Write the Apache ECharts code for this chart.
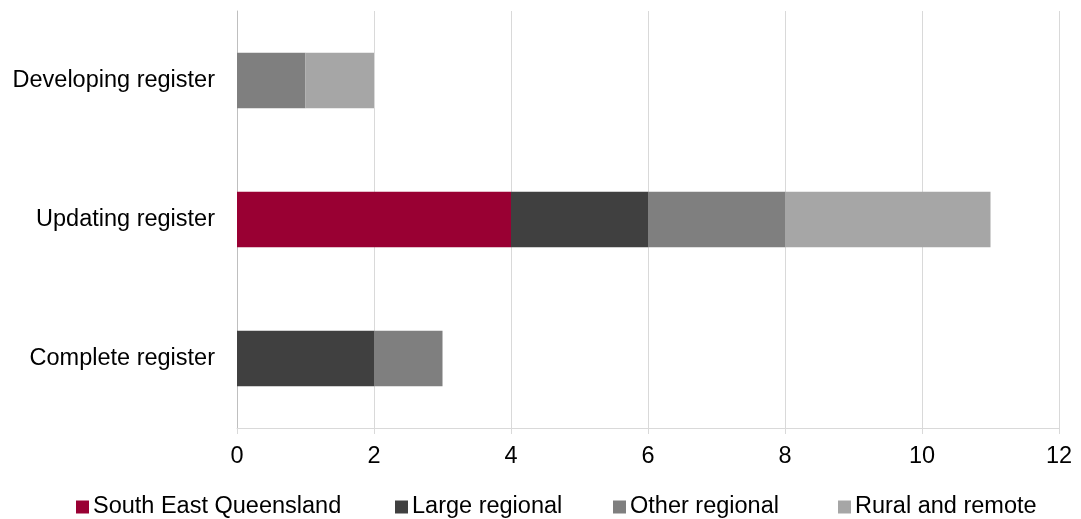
<!DOCTYPE html>
<html>
<head>
<meta charset="utf-8">
<script src="https://cdn.jsdelivr.net/npm/echarts@6/dist/echarts.min.js"></script>
<style>
  html, body { margin: 0; padding: 0; background: #fff; }
  #chart { width: 1081px; height: 519px; }
</style>
</head>
<body>
<div id="chart"></div>
<script>
// categories from bottom to top
const categories = ["Complete register", "Updating register", "Developing register"];
const seriesNames = ["South East Queensland", "Large regional", "Other regional", "Rural and remote"];
const seqValues = [0, 4, 0];
const largeValues = [2, 2, 0];
const otherValues = [1, 2, 1];
const ruralValues = [0, 3, 1];
const colors = ["#990033", "#404040", "#7f7f7f", "#a6a6a6"];

const allValues = [seqValues, largeValues, otherValues, ruralValues];
const font = "Liberation Sans, Arial, sans-serif";
// legend entries sit at their own x positions, like the original
const legendLeft = [71, 390, 608, 833];

let chart = echarts.init(document.getElementById("chart"));
chart.setOption({
  backgroundColor: "#fff",
  animation: false,
  textStyle: { fontFamily: font },
  grid: {
    left: 237,
    right: 22,
    top: 11,
    bottom: 91
  },
  legend: seriesNames.map((name, i) => ({
    left: legendLeft[i],
    top: 490,
    itemWidth: 13,
    itemHeight: 13,
    icon: "rect",
    selectedMode: false,
    textStyle: { fontSize: 23.5, color: "#000", fontFamily: font, padding: [0, 0, 0, -1] },
    data: [name]
  })),
  xAxis: {
    type: "value",
    min: 0,
    max: 12,
    interval: 2,
    axisLine: { show: true, lineStyle: { color: "#d9d9d9", width: 1 } },
    axisTick: { show: true, length: 6, lineStyle: { color: "#d9d9d9" } },
    splitLine: { show: true, lineStyle: { color: "#d9d9d9", width: 1 } },
    axisLabel: { fontSize: 23.5, color: "#000", margin: 17, fontFamily: font }
  },
  yAxis: {
    type: "category",
    data: categories,
    axisLine: { show: true, lineStyle: { color: "#bfbfbf", width: 1 } },
    axisTick: { show: false },
    axisLabel: { fontSize: 23.5, color: "#000", margin: 22, fontFamily: font }
  },
  series: seriesNames.map((name, i) => ({
    name: name,
    type: "bar",
    stack: "total",
    barCategoryGap: "60%",
    itemStyle: { color: colors[i] },
    data: allValues[i]
  }))
});
</script>
</body>
</html>
